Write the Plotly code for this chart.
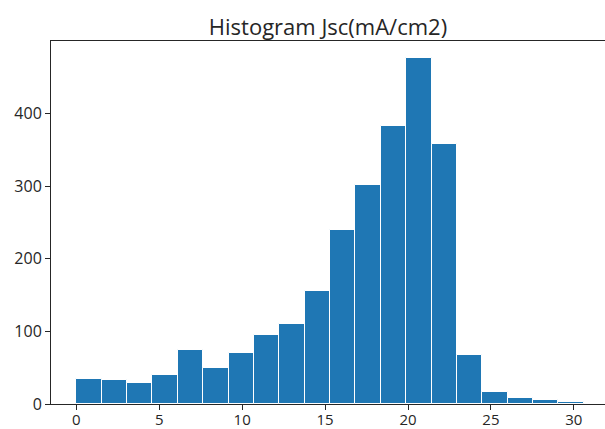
import numpy as np
import plotly.graph_objects as go

# Histogram of short-circuit current density: counts per bin
jsc_min = 0.0
jsc_max = 30.6
n_bins = 20
counts = [35, 33, 29, 40, 75, 49, 70, 95, 110, 155,
          240, 302, 383, 476, 358, 68, 17, 8, 5, 3]
x_ticks = [0, 5, 10, 15, 20, 25, 30]
y_ticks = [0, 100, 200, 300, 400]

edges = np.linspace(jsc_min, jsc_max, n_bins + 1)
centers = (edges[:-1] + edges[1:]) / 2
widths = np.diff(edges)

fig = go.Figure(
    go.Bar(
        x=centers,
        y=counts,
        width=widths,
        marker=dict(color="#1f77b4", line=dict(color="white", width=1)),
        showlegend=False,
    )
)

span = jsc_max - jsc_min
fig.update_layout(
    width=605,
    height=429,
    margin=dict(l=51, r=0, t=41, b=25, autoexpand=False),
    paper_bgcolor="white",
    plot_bgcolor="white",
    bargap=0,
    font=dict(family="Open Sans", size=16, color="#262626"),
    title=dict(
        text="Histogram Jsc(mA/cm2)",
        font=dict(size=22, color="#262626"),
        x=0.5, xref="paper", xanchor="center",
        y=1, yref="paper", yanchor="bottom",
        pad=dict(b=6),
        automargin=False,
    ),
)
fig.update_xaxes(
    range=[jsc_min - 0.05 * span, 31.88],
    tickvals=x_ticks,
    tickfont=dict(size=15),
    ticklabelstandoff=-3,
    ticks="outside", ticklen=5, tickwidth=1, tickcolor="#262626",
    showline=True, linecolor="#262626", linewidth=1, mirror=True,
    showgrid=False, zeroline=False, automargin=False,
)
fig.update_yaxes(
    range=[0, max(counts) * 1.05],
    tickvals=y_ticks,
    ticks="outside", ticklen=5, tickwidth=1, tickcolor="#262626",
    showline=True, linecolor="#262626", linewidth=1, mirror=False,
    showgrid=False, zeroline=False, automargin=False,
)

fig.write_html("out.html")
